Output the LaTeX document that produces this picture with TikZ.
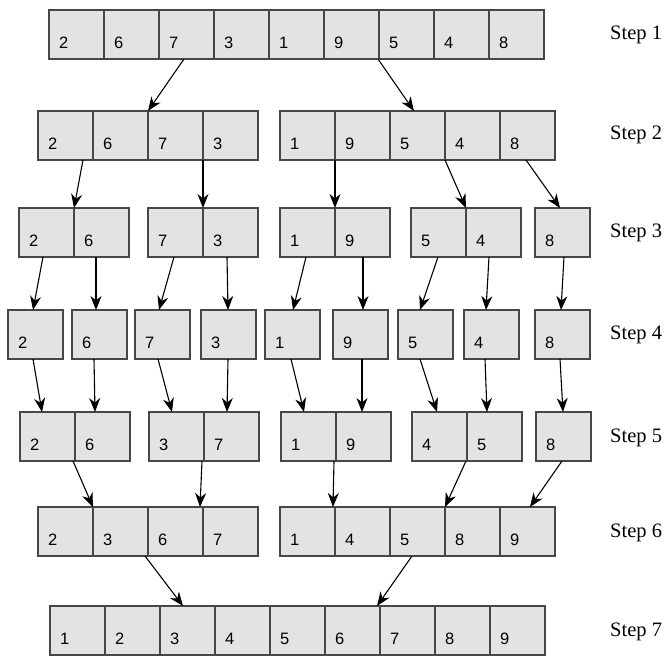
\documentclass[tikz,border=0pt]{standalone}
\usepackage{fontspec}
\setmainfont{Liberation Serif}
\newfontfamily\digitfont{Liberation Sans}
\usetikzlibrary{arrows.meta}
\tikzset{
  cellbox/.style={rectangle, draw=black!72, line width=1.2pt, fill=black!11,
    minimum width=55pt, minimum height=49pt, anchor=north west,
    inner sep=0pt, outer sep=0pt},
  digit/.style={anchor=base west, inner sep=0pt,
    font=\digitfont\fontsize{16.5}{16.5}\selectfont},
  steplabel/.style={anchor=base west, inner sep=0pt,
    font=\fontsize{20.5}{20.5}\selectfont},
  arr/.style={line width=1.1pt, draw=black, -{Stealth[length=14pt,width=11pt,inset=4.5pt]}},
}
\newcommand\cellrow[4]{%
  \foreach \d [count=\i] in {#4} {%
    \node[cellbox] (#1-\i) at ({#2+(\i-1)*55},#3) {};
    \node[digit] at ([xshift=10pt,yshift=-38pt]#1-\i.north west) {\d};
  }}
\begin{document}
\begin{tikzpicture}[x=1pt,y=-1pt]
\useasboundingbox (0,0) rectangle (670,667);
% Step 1
\cellrow{s1}{49}{10}{2,6,7,3,1,9,5,4,8}
% Step 2
\cellrow{s2a}{38}{111}{2,6,7,3}
\cellrow{s2b}{280}{111}{1,9,5,4,8}
% Step 3
\cellrow{s3a}{19}{208}{2,6}
\cellrow{s3b}{148}{208}{7,3}
\cellrow{s3c}{280}{208}{1,9}
\cellrow{s3d}{411}{208}{5,4}
\cellrow{s3e}{535}{208}{8}
% Step 4
\cellrow{s4a}{8}{310}{2}
\cellrow{s4b}{72}{310}{6}
\cellrow{s4c}{135}{310}{7}
\cellrow{s4d}{201}{310}{3}
\cellrow{s4e}{265}{310}{1}
\cellrow{s4f}{333}{310}{9}
\cellrow{s4g}{398}{310}{5}
\cellrow{s4h}{464}{310}{4}
\cellrow{s4i}{535}{310}{8}
% Step 5
\cellrow{s5a}{20}{412}{2,6}
\cellrow{s5b}{149}{412}{3,7}
\cellrow{s5c}{281}{412}{1,9}
\cellrow{s5d}{412}{412}{4,5}
\cellrow{s5e}{536}{412}{8}
% Step 6
\cellrow{s6a}{38}{507}{2,3,6,7}
\cellrow{s6b}{280}{507}{1,4,5,8,9}
% Step 7
\cellrow{s7}{50}{606}{1,2,3,4,5,6,7,8,9}
% labels
\node[steplabel] (l1) at (610,39) {Step 1};
\node[steplabel] (l2) at (610,139) {Step 2};
\node[steplabel] (l3) at (610,237) {Step 3};
\node[steplabel] (l4) at (610,339) {Step 4};
\node[steplabel] (l5) at (610,442) {Step 5};
\node[steplabel] (l6) at (610,537) {Step 6};
\node[steplabel] (l7) at (610,636) {Step 7};
% arrows 1 -> 2
\draw[arr] ([xshift=25pt]s1-3.south west) -- (s2a-3.north west);
\draw[arr] ([xshift=-1pt]s1-7.south west) -- ([xshift=24pt]s2b-3.north west);
% arrows 2 -> 3
\draw[arr] ([xshift=45pt]s2a-1.south west) -- (s3a-2.north west);
\draw[arr] (s2a-4.south west) -- (s3b-2.north west);
\draw[arr] (s2b-2.south west) -- (s3c-2.north west);
\draw[arr] (s2b-4.south west) -- (s3d-2.north west);
\draw[arr] ([xshift=26pt]s2b-5.south west) -- ([xshift=25pt]s3e-1.north west);
% arrows 3 -> 4
\draw[arr] ([xshift=24pt]s3a-1.south west) -- ([xshift=25pt]s4a-1.north west);
\draw[arr] ([xshift=22pt]s3a-2.south west) -- ([xshift=24pt]s4b-1.north west);
\draw[arr] ([xshift=26pt]s3b-1.south west) -- ([xshift=24pt]s4c-1.north west);
\draw[arr] ([xshift=24pt]s3b-2.south west) -- ([xshift=27pt]s4d-1.north west);
\draw[arr] ([xshift=26pt]s3c-1.south west) -- ([xshift=28pt]s4e-1.north west);
\draw[arr] ([xshift=28pt]s3c-2.south west) -- ([xshift=30pt]s4f-1.north west);
\draw[arr] ([xshift=27pt]s3d-1.south west) -- ([xshift=22pt]s4g-1.north west);
\draw[arr] ([xshift=23pt]s3d-2.south west) -- ([xshift=22pt]s4h-1.north west);
\draw[arr] ([xshift=29pt]s3e-1.south west) -- ([xshift=26pt]s4i-1.north west);
% arrows 4 -> 5
\draw[arr] ([xshift=25pt]s4a-1.south west) -- ([xshift=22pt]s5a-1.north west);
\draw[arr] ([xshift=22pt]s4b-1.south west) -- ([xshift=20pt]s5a-2.north west);
\draw[arr] ([xshift=23pt]s4c-1.south west) -- ([xshift=23pt]s5b-1.north west);
\draw[arr] ([xshift=27pt]s4d-1.south west) -- ([xshift=23pt]s5b-2.north west);
\draw[arr] ([xshift=26pt]s4e-1.south west) -- ([xshift=23pt]s5c-1.north west);
\draw[arr] ([xshift=29pt]s4f-1.south west) -- ([xshift=26pt]s5c-2.north west);
\draw[arr] ([xshift=22pt]s4g-1.south west) -- ([xshift=25pt]s5d-1.north west);
\draw[arr] ([xshift=21pt]s4h-1.south west) -- ([xshift=20pt]s5d-2.north west);
\draw[arr] ([xshift=25pt]s4i-1.south west) -- ([xshift=27pt]s5e-1.north west);
% arrows 5 -> 6
\draw[arr] ([xshift=-2pt]s5a-2.south west) -- (s6a-2.north west);
\draw[arr] ([xshift=-2pt]s5b-2.south west) -- ([xshift=-3pt]s6a-4.north west);
\draw[arr] ([xshift=-2pt]s5c-2.south west) -- ([xshift=-2pt]s6b-2.north west);
\draw[arr] ([xshift=-1pt]s5d-2.south west) -- (s6b-4.north west);
\draw[arr] ([xshift=26pt]s5e-1.south west) -- ([xshift=30pt]s6b-5.north west);
% arrows 6 -> 7
\draw[arr] ([xshift=-3pt]s6a-3.south west) -- ([xshift=23pt]s7-3.north west);
\draw[arr] ([xshift=22pt]s6b-3.south west) -- ([xshift=-3pt]s7-7.north west);
\end{tikzpicture}
\end{document}
